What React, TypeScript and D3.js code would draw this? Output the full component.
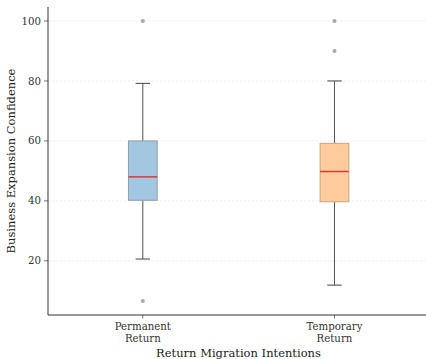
import React from "react";
import * as d3 from "d3";

const categories = ["Permanent\nReturn", "Temporary\nReturn"];
const q1 = [40.2, 39.7];
const median = [48.0, 49.8];
const q3 = [60.0, 59.2];
const whiskerLow = [20.6, 11.9];
const whiskerHigh = [79.2, 80.0];
const outliers = [[100, 6.6], [100, 90]];
const boxFill = ["#a4c7e1", "#ffcb9c"];
const boxEdge = ["#8e9fab", "#c4a585"];
const yTicks = [20, 40, 60, 80, 100];

const W = 426, H = 359;
const left = 48, top = 7, bottom = 315;

export default function App() {
  const x = d3.scaleLinear().domain([0.5, 2.5]).range([47, 430.3]);
  const y = d3.scaleLinear().domain([1.93, 104.67]).range([bottom, top]);
  const bw = 0.15;
  const font = "'DejaVu Serif', serif";
  return (
    <svg width={W} height={H} style={{ position: "absolute", left: 0, top: 0 }}>
      <rect width={W} height={H} fill="#fff" />
      {yTicks.map((t) => (
        <g key={t}>
          <line x1={left} x2={W} y1={y(t)} y2={y(t)} stroke="#e6e6e6" strokeWidth={0.7} strokeDasharray="2.5,1.5" />
          <line x1={left - 4} x2={left} y1={y(t)} y2={y(t)} stroke="#555" strokeWidth={0.8} />
          <text x={left - 7} y={y(t)} dy="0.35em" textAnchor="end" fontFamily={font} fontSize={10.2} fill="#333">{t}</text>
        </g>
      ))}
      {categories.map((c, i) => {
        const cx = x(i + 1);
        const hw = (x(1 + bw / 2) - x(1));
        const cw = hw / 2;
        return (
          <g key={c}>
            <line x1={cx} x2={cx} y1={y(q3[i])} y2={y(whiskerHigh[i])} stroke="#555" strokeWidth={1} />
            <line x1={cx} x2={cx} y1={y(q1[i])} y2={y(whiskerLow[i])} stroke="#555" strokeWidth={1} />
            <line x1={cx - cw} x2={cx + cw} y1={y(whiskerHigh[i])} y2={y(whiskerHigh[i])} stroke="#444" strokeWidth={1} />
            <line x1={cx - cw} x2={cx + cw} y1={y(whiskerLow[i])} y2={y(whiskerLow[i])} stroke="#444" strokeWidth={1} />
            <rect x={cx - hw} y={y(q3[i])} width={2 * hw} height={y(q1[i]) - y(q3[i])} fill={boxFill[i]} stroke={boxEdge[i]} strokeWidth={1} />
            <line x1={cx - hw} x2={cx + hw} y1={y(median[i])} y2={y(median[i])} stroke="#d9383a" strokeWidth={1.5} />
            {outliers[i].map((o, j) => (
              <circle key={j} cx={cx} cy={y(o)} r={2} fill="#a8a8a8" />
            ))}
            <line x1={cx} x2={cx} y1={bottom} y2={bottom + 3.5} stroke="#555" strokeWidth={0.8} />
            {c.split("\n").map((s, k) => (
              <text key={k} x={cx} y={330 + k * 12} textAnchor="middle" fontFamily={font} fontSize={10.2} fill="#333">{s}</text>
            ))}
          </g>
        );
      })}
      <line x1={left} x2={left} y1={top} y2={bottom} stroke="#333" strokeWidth={1} />
      <line x1={left} x2={W} y1={bottom} y2={bottom} stroke="#333" strokeWidth={1} />
      <text x={238.5} y={356.5} textAnchor="middle" fontFamily={font} fontSize={11.5} fill="#222">Return Migration Intentions</text>
      <text transform={`translate(15,${(top + bottom) / 2}) rotate(-90)`} textAnchor="middle" fontFamily={font} fontSize={11.5} fill="#222">Business Expansion Confidence</text>
    </svg>
  );
}
